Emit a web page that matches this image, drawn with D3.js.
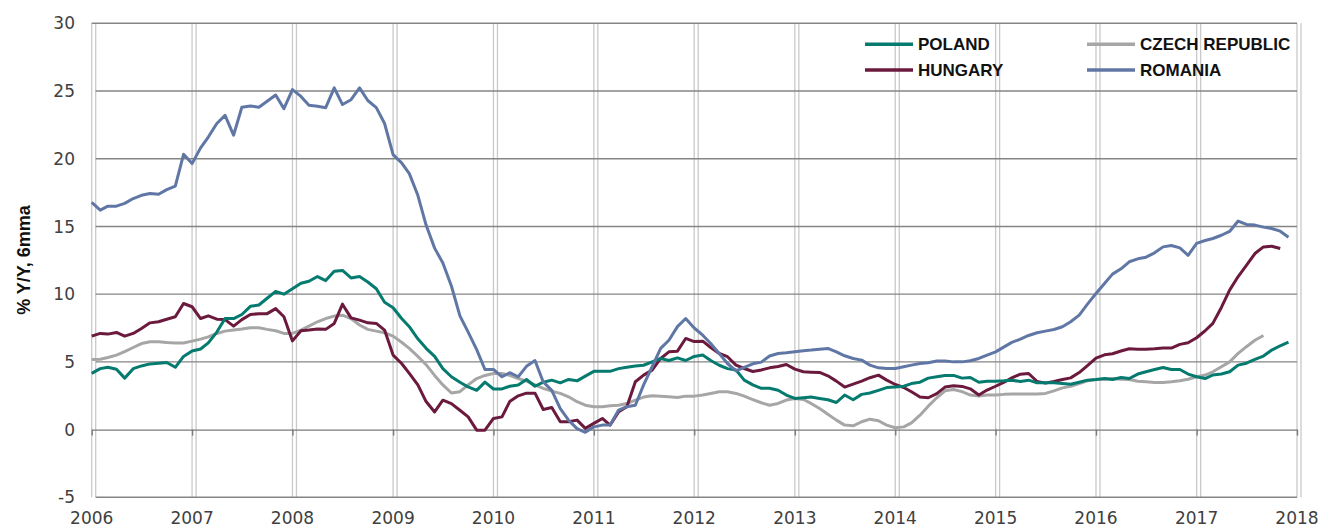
<!DOCTYPE html>
<html>
<head>
<meta charset="utf-8">
<script src="https://cdn.jsdelivr.net/npm/d3@7"></script>
<style>
  body { margin: 0; background: #fff; }
  svg { display: block; }
  .tick-label { font-family: "DejaVu Sans", sans-serif; font-size: 17px; fill: #404040; }
  .legend text { font-family: "Liberation Sans", Arial, sans-serif; font-size: 17px; font-weight: bold; fill: #111; }
  .y-title { font-family: "Liberation Sans", Arial, sans-serif; font-size: 18px; font-weight: bold; fill: #111; }
</style>
</head>
<body>
<div id="chart"></div>
<script>
// monthly series, first value = Jan 2006
var startMonth = new Date(2006, 0, 1);

var poland = [
  4.15, 4.5, 4.6, 4.45, 3.8, 4.5, 4.7, 4.85, 4.9, 4.95, 4.6, 5.4,
  5.8, 5.95, 6.4, 7.2, 8.2, 8.2, 8.5, 9.1, 9.2, 9.7, 10.2, 10.0,
  10.4, 10.8, 10.95, 11.3, 11.0, 11.7, 11.75, 11.2, 11.3, 10.9, 10.4, 9.4,
  9.0, 8.2, 7.6, 6.7, 6.0, 5.4, 4.5, 3.9, 3.5, 3.15, 2.9, 3.5,
  3.0, 3.0, 3.2, 3.3, 3.7, 3.2, 3.5, 3.65, 3.45, 3.7, 3.6, 3.95,
  4.3, 4.3, 4.3, 4.5, 4.6, 4.7, 4.75, 5.0, 5.25, 5.1, 5.3, 5.1,
  5.4, 5.5, 5.1, 4.75, 4.5, 4.4, 3.65, 3.3, 3.05, 3.05, 2.9, 2.55,
  2.3, 2.35, 2.4, 2.3, 2.2, 2.0, 2.55, 2.2, 2.6, 2.7, 2.9, 3.1,
  3.15, 3.2, 3.4, 3.5, 3.8, 3.9, 4.0, 4.0, 3.8, 3.85, 3.5, 3.57,
  3.57, 3.6, 3.65, 3.55, 3.65, 3.45, 3.45, 3.45, 3.4, 3.35, 3.5, 3.65,
  3.7, 3.77, 3.7, 3.85, 3.77, 4.1, 4.27, 4.44, 4.59, 4.44, 4.44, 4.1,
  3.9, 3.77, 4.03, 4.1, 4.27, 4.76, 4.9, 5.18, 5.43, 5.87, 6.19, 6.45
];

var czech = [
  5.18, 5.2, 5.32, 5.5, 5.75, 6.06, 6.35, 6.48, 6.48, 6.43, 6.4, 6.4,
  6.53, 6.68, 6.85, 7.1, 7.27, 7.35, 7.42, 7.52, 7.52, 7.4, 7.3, 7.1,
  7.1, 7.35, 7.64, 7.96, 8.2, 8.38, 8.45, 8.2, 7.72, 7.4, 7.27, 7.15,
  6.9, 6.45, 6.0, 5.4, 4.8, 4.0, 3.3, 2.7, 2.8, 3.3, 3.77, 4.0,
  4.14, 4.14, 4.0, 3.77, 3.58, 3.3, 3.04, 2.84, 2.67, 2.42, 2.06, 1.8,
  1.69, 1.69, 1.76, 1.8, 1.92, 2.17, 2.4, 2.5, 2.47, 2.42, 2.37, 2.47,
  2.47, 2.55, 2.67, 2.8, 2.8, 2.67, 2.47, 2.22, 1.98, 1.8, 1.93, 2.18,
  2.3, 2.22, 1.93, 1.56, 1.14, 0.7, 0.33, 0.28, 0.58, 0.77, 0.65, 0.33,
  0.14, 0.2, 0.5, 1.06, 1.73, 2.35, 2.86, 2.96, 2.8, 2.55, 2.47, 2.55,
  2.55, 2.6, 2.62, 2.62, 2.62, 2.62, 2.67, 2.86, 3.08, 3.2, 3.4, 3.6,
  3.7, 3.72, 3.77, 3.72, 3.7, 3.57, 3.53, 3.48, 3.48, 3.53, 3.6, 3.72,
  3.9, 4.03, 4.27, 4.64, 5.0, 5.63, 6.12, 6.6, 6.95
];

var hungary = [
  6.9, 7.1, 7.05, 7.17, 6.9, 7.1, 7.47, 7.88, 7.96, 8.15, 8.33, 9.31,
  9.07, 8.2, 8.4, 8.15, 8.12, 7.64, 8.12, 8.5, 8.56, 8.56, 8.93, 8.33,
  6.55, 7.3, 7.35, 7.42, 7.4, 7.84, 9.26, 8.25, 8.08, 7.88, 7.84, 7.35,
  5.5, 4.88, 4.15, 3.3, 2.07, 1.3, 2.17, 1.92, 1.43, 0.94, -0.04, -0.04,
  0.82, 0.94, 2.07, 2.49, 2.69, 2.69, 1.48, 1.63, 0.58, 0.58, 0.7, 0.09,
  0.46, 0.82, 0.33, 1.31, 1.69, 3.53, 4.02, 4.39, 5.25, 5.74, 5.79, 6.73,
  6.5, 6.53, 6.06, 5.62, 5.38, 4.76, 4.51, 4.29, 4.4, 4.56, 4.66, 4.81,
  4.46, 4.27, 4.24, 4.22, 3.97, 3.58, 3.14, 3.36, 3.58, 3.83, 4.02, 3.65,
  3.33, 3.11, 2.79, 2.4, 2.35, 2.65, 3.14, 3.24, 3.19, 3.01, 2.55, 2.92,
  3.2, 3.5, 3.82, 4.09, 4.14, 3.55, 3.43, 3.55, 3.7, 3.82, 4.21, 4.73,
  5.28, 5.52, 5.6, 5.8, 5.97, 5.94, 5.94, 5.97, 6.02, 6.02, 6.29, 6.41,
  6.78, 7.3, 7.84, 9.02, 10.3, 11.3, 12.12, 13.0, 13.49, 13.54, 13.37
];

var romania = [
  16.77, 16.2, 16.5, 16.5, 16.7, 17.06, 17.3, 17.43, 17.38, 17.72, 17.97, 20.33,
  19.64, 20.8, 21.6, 22.6, 23.2, 21.74, 23.8, 23.9, 23.8, 24.24, 24.7, 23.7,
  25.1, 24.6, 23.95, 23.87, 23.77, 25.23, 24.0, 24.36, 25.23, 24.3, 23.77, 22.6,
  20.3, 19.7, 18.9, 17.3, 15.1, 13.4, 12.3, 10.6, 8.4, 7.2, 5.9, 4.44,
  4.44, 3.9, 4.2, 3.9, 4.67, 5.1, 3.52, 2.9, 1.55, 0.69, 0.07, -0.2,
  0.2, 0.33, 0.33, 1.44, 1.69, 1.8, 3.3, 4.64, 6.0, 6.6, 7.6, 8.2,
  7.5, 6.97, 6.36, 5.62, 4.88, 4.34, 4.59, 4.86, 4.98, 5.43, 5.62, 5.67,
  5.74, 5.82, 5.87, 5.94, 5.99, 5.74, 5.45, 5.25, 5.13, 4.76, 4.56, 4.51,
  4.51, 4.64, 4.76, 4.88, 4.93, 5.06, 5.06, 5.0, 5.0, 5.08, 5.25, 5.5,
  5.74, 6.11, 6.44, 6.68, 6.95, 7.15, 7.27, 7.39, 7.59, 7.96, 8.45, 9.26,
  10.05, 10.79, 11.48, 11.87, 12.39, 12.61, 12.73, 13.05, 13.49, 13.59, 13.42, 12.87,
  13.75, 13.96, 14.11, 14.35, 14.63, 15.4, 15.15, 15.1, 14.95, 14.85, 14.65, 14.2
];

var seriesNames = [ "POLAND", "HUNGARY", "CZECH REPUBLIC", "ROMANIA" ],
    seriesValues = [ poland, hungary, czech, romania ],
    seriesColors = [ "#057a6f", "#6b1a3d", "#a6a6a6", "#6077a6" ];

var yTicks = [ -5, 0, 5, 10, 15, 20, 25, 30 ],
    yearTicks = d3.range(2006, 2019);

var W = 1322, H = 528;

var svg = d3.select("#chart")
  .append("svg")
    .attr("width", W)
    .attr("height", H);

var x = d3.scaleTime()
      .domain([ new Date(2006, 0, 1), new Date(2018, 0, 1) ])
      .range([ 91.7, 1297 ]),
    y = d3.scaleLinear()
      .domain([ -5, 30 ])
      .range([ 497.3, 23.3 ]);

var x0 = x.range()[0], x1 = x.range()[1];

// vertical gridlines (pair of light lines per year, like the original)
var grid = svg.append("g").attr("class", "grid");
yearTicks.forEach(function(yr) {
  var px = x(new Date(yr, 0, 1));
  [ px, px + 4 ].forEach(function(gx) {
    grid.append("line")
        .attr("x1", gx).attr("x2", gx)
        .attr("y1", y(30)).attr("y2", y(-5))
        .attr("stroke", "#c9c9c9")
        .attr("stroke-width", 1.3);
  });
});

// horizontal gridlines
grid.selectAll(".hgrid")
    .data(yTicks.filter(function(d) { return d !== 0; }))
  .enter().append("line")
    .attr("class", "hgrid")
    .attr("x1", function(d) { return d === 30 ? x0 : x0 + 4; })
    .attr("x2", x1)
    .attr("y1", function(d) { return y(d); })
    .attr("y2", function(d) { return y(d); })
    .attr("stroke", "#858585")
    .attr("stroke-width", 1.4);

// zero line with tick marks pointing down
var axisX = d3.axisBottom(x)
    .tickValues(yearTicks.map(function(yr) { return new Date(yr, 0, 1); }))
    .tickFormat("")
    .tickSizeInner(6)
    .tickSizeOuter(0);
svg.append("g")
    .attr("class", "axis-x")
    .attr("transform", "translate(0," + y(0) + ")")
    .call(axisX);
svg.selectAll(".axis-x .domain, .axis-x line")
    .attr("stroke", "#7a7a7a")
    .attr("stroke-width", 1.4);

// tick labels
svg.append("g").selectAll("text")
    .data(yTicks)
  .enter().append("text")
    .attr("class", "tick-label")
    .attr("x", 75)
    .attr("y", function(d) { return y(d); })
    .attr("dy", "0.36em")
    .attr("text-anchor", "end")
    .text(function(d) { return d; });

svg.append("g").selectAll("text")
    .data(yearTicks)
  .enter().append("text")
    .attr("class", "tick-label")
    .attr("x", function(d) { return x(new Date(d, 0, 1)); })
    .attr("y", 523.5)
    .attr("text-anchor", "middle")
    .text(function(d) { return d; });

svg.append("text")
    .attr("class", "y-title")
    .attr("transform", "translate(30,260) rotate(-90)")
    .attr("text-anchor", "middle")
    .text("% Y/Y, 6mma");

// series lines
var line = d3.line()
    .x(function(d, i) { return x(d3.timeMonth.offset(startMonth, i)); })
    .y(function(d) { return y(d); });

// draw order: czech under the others, romania on top
[ 2, 1, 0, 3 ].forEach(function(k) {
  svg.append("path")
      .datum(seriesValues[k])
      .attr("fill", "none")
      .attr("stroke", seriesColors[k])
      .attr("stroke-width", 3)
      .attr("stroke-linejoin", "round")
      .attr("d", line);
});

// legend
var legendPos = [
  { lx: 865, ly: 44.3 },
  { lx: 865, ly: 70 },
  { lx: 1087, ly: 44.3 },
  { lx: 1087, ly: 70 }
];
var legend = svg.append("g").attr("class", "legend");
seriesNames.forEach(function(name, k) {
  var p = legendPos[k];
  legend.append("line")
      .attr("x1", p.lx).attr("x2", p.lx + 48)
      .attr("y1", p.ly).attr("y2", p.ly)
      .attr("stroke", seriesColors[k])
      .attr("stroke-width", 3.5);
  legend.append("text")
      .attr("x", p.lx + 53)
      .attr("y", p.ly + 6)
      .text(name);
});
</script>
</body>
</html>
